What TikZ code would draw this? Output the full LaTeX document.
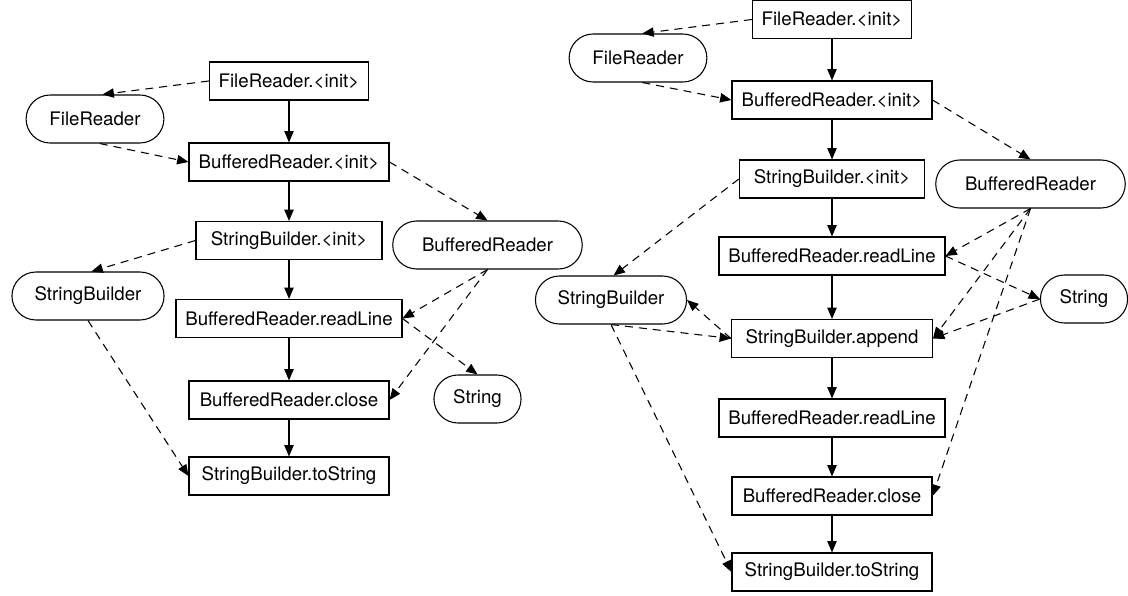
\documentclass[tikz,border=0pt]{standalone}
\usepackage{fontspec}
\setmainfont{TeX Gyre Heros}
\usetikzlibrary{
    arrows.meta,
    shapes.misc
}

\begin{document}
\begin{tikzpicture}[x=0.75pt,y=-0.75pt,
    >={Triangle[length=8.5pt,width=7pt]},
    every node/.style={font=\fontsize{14pt}{16pt}\selectfont},
    call/.style={draw,rectangle,line width=0.8pt,minimum height=28.5pt,
        inner xsep=7pt,minimum width=#1},
    call/.default=0pt,
    obj/.style={draw,rounded rectangle,line width=0.8pt,minimum height=36pt,
        minimum width=#1},
    flow/.style={->,line width=0.8pt},
    dep/.style={->,line width=0.8pt,dash pattern=on 6pt off 4.5pt}]

\useasboundingbox (0,0) rectangle (1128,596);

%====================================================
% Primo grafo
%====================================================

\node[call] (L1) at (289,81) {FileReader.<init>};
\node[call=150pt] (L2) at (289,162) {BufferedReader.<init>};
\node[call=139.5pt] (L3) at (289,240.5) {StringBuilder.<init>};
\node[call] (L4) at (289,318.5) {BufferedReader.readLine};
\node[call=150pt] (L5) at (289,400) {BufferedReader.close};
\node[call=150pt] (L6) at (289,476) {StringBuilder.toString};

\node[obj=110pt] (Lfr) at (95,119) {FileReader};
\node[obj=120.75pt] (Lsb) at (88,296) {StringBuilder};
\node[obj=148.8pt] (Lbr) at (487.5,245) {BufferedReader};
\node[obj=72pt] (Lstr) at (477.5,399) {String};

\draw[flow] (L1) -- (L2);
\draw[flow] (L2) -- (L3);
\draw[flow] (L3) -- (L4);
\draw[flow] (L4) -- (L5);
\draw[flow] (L5) -- (L6);

\draw[dep] (L1.west) -- (Lfr.73);
\draw[dep] (Lfr.-79) -- (L2.west);
\draw[dep] (L2.east) -- (Lbr.north);
\draw[dep] (L3.west) -- (Lsb.82);
\draw[dep] (Lbr.south) -- (L4.east);
\draw[dep] (Lbr.south) -- (L5.east);
\draw[dep] (L4.east) -- (Lstr.north);
\draw[dep] (Lsb.south) -- (L6.west);

%====================================================
% Secondo grafo
%====================================================

\node[call] (R1) at (832,19.5) {FileReader.<init>};
\node[call=150pt] (R2) at (832,100) {BufferedReader.<init>};
\node[call=139pt] (R3) at (832,179) {StringBuilder.<init>};
\node[call] (R4) at (832,256) {BufferedReader.readLine};
\node[call=150.75pt] (R5) at (832,338.5) {StringBuilder.append};
\node[call] (R6) at (832,418) {BufferedReader.readLine};
\node[call=150pt] (R7) at (832,496) {BufferedReader.close};
\node[call=150pt] (R8) at (832,572) {StringBuilder.toString};

\node[obj=110pt] (Rfr) at (638,58) {FileReader};
\node[obj=120pt] (Rsb) at (611,300) {StringBuilder};
\node[obj=148.8pt] (Rbr) at (1030.5,184) {BufferedReader};
\node[obj=72pt] (Rstr) at (1084,299) {String};

\draw[flow] (R1) -- (R2);
\draw[flow] (R2) -- (R3);
\draw[flow] (R3) -- (R4);
\draw[flow] (R4) -- (R5);
\draw[flow] (R5) -- (R6);
\draw[flow] (R6) -- (R7);
\draw[flow] (R7) -- (R8);

\draw[dep] (R1.west) -- (Rfr.80);
\draw[dep] (Rfr.-80) -- (R2.west);
\draw[dep] (R2.east) -- (Rbr.north);
\draw[dep] (R3.west) -- (Rsb.84);
\draw[dep] (Rbr.south) -- (R4.east);
\draw[dep] (Rbr.south) -- (R5.east);
\draw[dep] (Rbr.south) -- (R7.east);
\draw[dep] (R4.east) -- (Rstr.west);
\draw[dep] (Rstr.west) -- (R5.east);
\draw[dep] (Rsb.south) -- (R5.west);
\draw[dep] (R5.west) -- (Rsb.east);
\draw[dep] (Rsb.south) -- (R8.west);
\end{tikzpicture}
\end{document}
